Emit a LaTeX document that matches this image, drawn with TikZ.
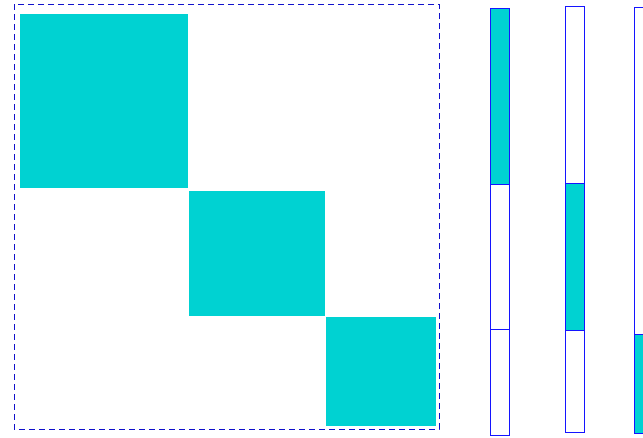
\documentclass[tikz,border=0pt]{standalone}
\definecolor{blk}{RGB}{0,210,210}
\definecolor{edge}{RGB}{20,20,255}
\begin{document}
\begin{tikzpicture}[x=1pt,y=-1pt,
  blockfill/.style={fill=blk,draw=none},
  colbox/.style={draw=edge,line width=1pt},
  frame/.style={draw=edge!80!black,line width=0.9pt,dash pattern=on 6pt off 4pt}]
\useasboundingbox (0,0) rectangle (643,437);
\clip (0,0) rectangle (643,437);
% matrix frame
\draw[frame] (14,4) rectangle (439,429);
% diagonal blocks
\fill[blockfill] (20,14) rectangle (188,188);
\fill[blockfill] (189,191) rectangle (325,316);
\fill[blockfill] (326,317) rectangle (436,426);
% column 1
\fill[blockfill] (490,9) rectangle (509,184);
\draw[colbox] (490,8.5) rectangle (509,435);
\draw[colbox] (490,184.5) -- (509,184.5);
\draw[colbox] (490,329) -- (509,329);
% column 2
\fill[blockfill] (565.5,183.5) rectangle (584.5,330);
\draw[colbox] (565.5,6) rectangle (584.5,432.5);
\draw[colbox] (565.5,183.5) -- (584.5,183.5);
\draw[colbox] (565.5,330.5) -- (584.5,330.5);
% column 3
\fill[blockfill] (634.5,334.5) rectangle (653.5,433);
\draw[colbox] (634.5,7) rectangle (653.5,433.5);
\draw[colbox] (634.5,334.5) -- (653.5,334.5);
\end{tikzpicture}
\end{document}
